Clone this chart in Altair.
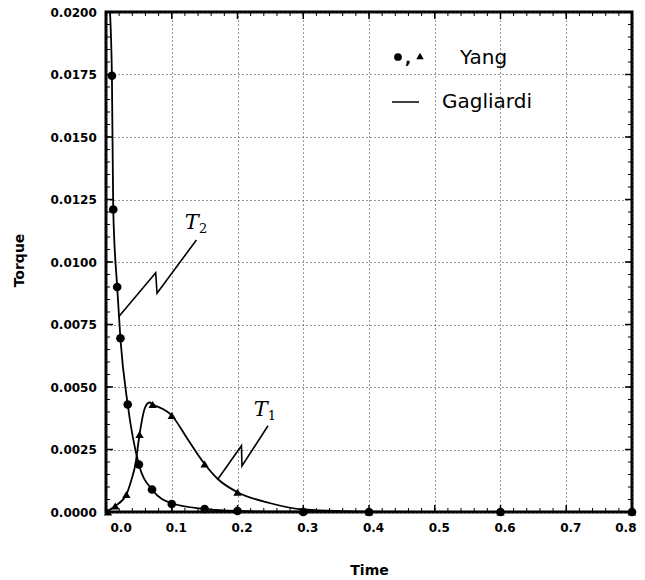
import altair as alt
import pandas as pd

# Yang: symbols (circles = T2, triangles = T1)
t2_time = [0.009, 0.011, 0.017, 0.022, 0.033, 0.050, 0.070, 0.100, 0.150, 0.200, 0.300, 0.400, 0.600, 0.800]
t2_torque = [0.01745, 0.0121, 0.0090, 0.00695, 0.0043, 0.0019, 0.0009, 0.00032, 0.00012, 0.00004, 0.0, 0.0, 0.0, 0.0]
t1_time = [0.003, 0.014, 0.031, 0.051, 0.071, 0.100, 0.150, 0.200, 0.300, 0.400, 0.600, 0.800]
t1_torque = [0.0, 0.00024, 0.0007, 0.0031, 0.0043, 0.00386, 0.00192, 0.00079, 0.00004, 0.0, 0.0, 0.0]

# Gagliardi: continuous curves
g2_time = [0.005, 0.009, 0.011, 0.017, 0.022, 0.033, 0.050, 0.070, 0.100, 0.150, 0.200, 0.300, 0.400, 0.600, 0.800]
g2_torque = [0.0205, 0.01745, 0.0121, 0.0090, 0.0069, 0.0043, 0.0019, 0.0009, 0.00035, 0.00012, 0.00004, 0.00001, 0.0, 0.0, 0.0]
g1_time = [0.0, 0.014, 0.031, 0.0386, 0.0447, 0.051, 0.059, 0.066, 0.0716, 0.100, 0.125, 0.150, 0.170, 0.200, 0.250, 0.300, 0.400, 0.600, 0.800]
g1_torque = [0.0, 0.00024, 0.0007, 0.00128, 0.0019, 0.0031, 0.00415, 0.00438, 0.0043, 0.00386, 0.00288, 0.00192, 0.00132, 0.00079, 0.00035, 0.0001, 0.00001, 0.0, 0.0]

# Curve labels and their zig-zag leaders
label_names = ["T", "T"]
label_subs = ["2", "1"]
label_time = [0.1367, 0.2415]
label_torque = [0.01156, 0.00408]
leader_T2_time = [0.0193, 0.0756, 0.0776, 0.1375]
leader_T2_torque = [0.00781, 0.00957, 0.00875, 0.01088]
leader_T1_time = [0.1703, 0.2060, 0.2068, 0.2464]
leader_T1_torque = [0.00132, 0.00265, 0.00184, 0.00345]

# Axis ticks
x_major = [0.0, 0.1, 0.2, 0.3, 0.4, 0.5, 0.6, 0.7, 0.8]
y_major = [0.0, 0.0025, 0.005, 0.0075, 0.01, 0.0125, 0.015, 0.0175, 0.02]
x_minor = [round(i * 0.02, 2) for i in range(41)]
y_minor = [round(i * 0.0005, 4) for i in range(41)]

W, H = 526, 500
xs = alt.Scale(domain=[0, 0.8], nice=False, zero=False)
ys = alt.Scale(domain=[0, 0.02], nice=False)

LABEL_FONT = "DejaVu Sans"

x_axis = alt.Axis(
    values=x_major, format=".1f", title="Time", grid=True, ticks=False, domain=False,
    labelFont=LABEL_FONT, labelFontWeight="bold", labelFontSize=12, labelPadding=10, labelOffset=4,
    labelColor="black", titleFont=LABEL_FONT, titleFontWeight="bold", titleFontSize=14,
    titleColor="black", titleY=51, titleBaseline="top",
    gridDash=[1, 3], gridColor="#333333", gridWidth=1,
)
y_axis = alt.Axis(
    values=y_major, format=".4f", title="Torque", grid=True, ticks=False, domain=False,
    labelFont=LABEL_FONT, labelFontWeight="bold", labelFontSize=12, labelPadding=56, labelAlign="left",
    labelColor="black", titleFont=LABEL_FONT, titleFontWeight="bold", titleFontSize=14,
    titleColor="black", titleX=-87, titleY=248, titleBaseline="middle", titleAlign="center",
    gridDash=[1, 3], gridColor="#333333", gridWidth=1,
)

X = alt.X("time:Q", scale=xs, axis=x_axis)
Y = alt.Y("torque:Q", scale=ys, axis=y_axis)

yang2 = pd.DataFrame({"time": t2_time, "torque": t2_torque})
yang1 = pd.DataFrame({"time": t1_time, "torque": t1_torque})
gag2 = pd.DataFrame({"time": g2_time, "torque": g2_torque})
gag1 = pd.DataFrame({"time": g1_time, "torque": g1_torque})

line2 = alt.Chart(gag2).mark_line(color="black", strokeWidth=1.8, clip=True, interpolate="monotone").encode(x=X, y=Y)
line1 = alt.Chart(gag1).mark_line(color="black", strokeWidth=1.8, clip=True, interpolate="monotone").encode(x=X, y=Y)
pts2 = alt.Chart(yang2).mark_point(shape="circle", filled=True, color="black", size=75, opacity=1).encode(x=X, y=Y)
pts1 = alt.Chart(yang1).mark_point(shape="triangle-up", filled=True, color="black", size=70, opacity=1).encode(x=X, y=Y)

leaders = pd.DataFrame({
    "time": leader_T2_time + leader_T1_time,
    "torque": leader_T2_torque + leader_T1_torque,
    "curve": ["T2"] * 4 + ["T1"] * 4,
    "step": list(range(4)) + list(range(4)),
})
leader_lines = alt.Chart(leaders).mark_line(color="black", strokeWidth=1.6).encode(
    x=X, y=Y, detail="curve:N", order="step:Q"
)

labels = pd.DataFrame({"time": label_time, "torque": label_torque, "name": label_names, "sub": label_subs})
label_T = alt.Chart(labels).mark_text(
    font="DejaVu Serif", fontStyle="italic", fontSize=21, align="right", baseline="alphabetic", dx=3, dy=6
).encode(x=X, y=Y, text="name:N")
label_sub = alt.Chart(labels).mark_text(
    font="DejaVu Serif", fontSize=13, align="left", baseline="alphabetic", dx=3, dy=10
).encode(x=X, y=Y, text="sub:N")

# Frame ticks, all pointing into the plot
xt = pd.DataFrame({"time": x_minor})
yt = pd.DataFrame({"torque": y_minor})
xM = pd.DataFrame({"time": x_major})
yM = pd.DataFrame({"torque": y_major})
tick_layers = [
    alt.Chart(xt).mark_rule(color="black", strokeWidth=1).encode(x=X, y=alt.value(H), y2=alt.value(H - 4)),
    alt.Chart(xt).mark_rule(color="black", strokeWidth=1).encode(x=X, y=alt.value(0), y2=alt.value(4)),
    alt.Chart(yt).mark_rule(color="black", strokeWidth=1).encode(y=Y, x=alt.value(0), x2=alt.value(4)),
    alt.Chart(yt).mark_rule(color="black", strokeWidth=1).encode(y=Y, x=alt.value(W), x2=alt.value(W - 4)),
    alt.Chart(xM).mark_rule(color="black", strokeWidth=1.5).encode(x=X, y=alt.value(H), y2=alt.value(H - 7)),
    alt.Chart(xM).mark_rule(color="black", strokeWidth=1.5).encode(x=X, y=alt.value(0), y2=alt.value(7)),
    alt.Chart(yM).mark_rule(color="black", strokeWidth=1.5).encode(y=Y, x=alt.value(0), x2=alt.value(7)),
    alt.Chart(yM).mark_rule(color="black", strokeWidth=1.5).encode(y=Y, x=alt.value(W), x2=alt.value(W - 7)),
]

# Legend block
one = pd.DataFrame({"k": [0]})
legend_layers = [
    alt.Chart(one).mark_point(shape="circle", filled=True, color="black", size=60, opacity=1).encode(
        x=alt.value(292), y=alt.value(45)),
    alt.Chart(one).mark_text(text=",", font=LABEL_FONT, fontSize=16, fontWeight="bold", align="center").encode(
        x=alt.value(302), y=alt.value(47)),
    alt.Chart(one).mark_point(shape="triangle-up", filled=True, color="black", size=55, opacity=1).encode(
        x=alt.value(314), y=alt.value(44)),
    alt.Chart(one).mark_text(text="Yang", font=LABEL_FONT, fontSize=20, align="left", baseline="alphabetic").encode(
        x=alt.value(354), y=alt.value(52)),
    alt.Chart(one).mark_rule(color="black", strokeWidth=1.5).encode(
        x=alt.value(286), x2=alt.value(313), y=alt.value(90)),
    alt.Chart(one).mark_text(text="Gagliardi", font=LABEL_FONT, fontSize=20, align="left", baseline="alphabetic").encode(
        x=alt.value(336), y=alt.value(96)),
]

chart = alt.layer(
    line2, line1, pts2, pts1, leader_lines, label_T, label_sub, *tick_layers, *legend_layers
).properties(
    width=W, height=H,
    autosize=alt.AutoSizeParams(type="none"),
    padding={"left": 106, "top": 12, "right": 13, "bottom": 68},
    background="white",
).configure_view(
    stroke="black", strokeWidth=3
)

chart.save("out.html", embed_options={"renderer": "svg", "actions": False})
